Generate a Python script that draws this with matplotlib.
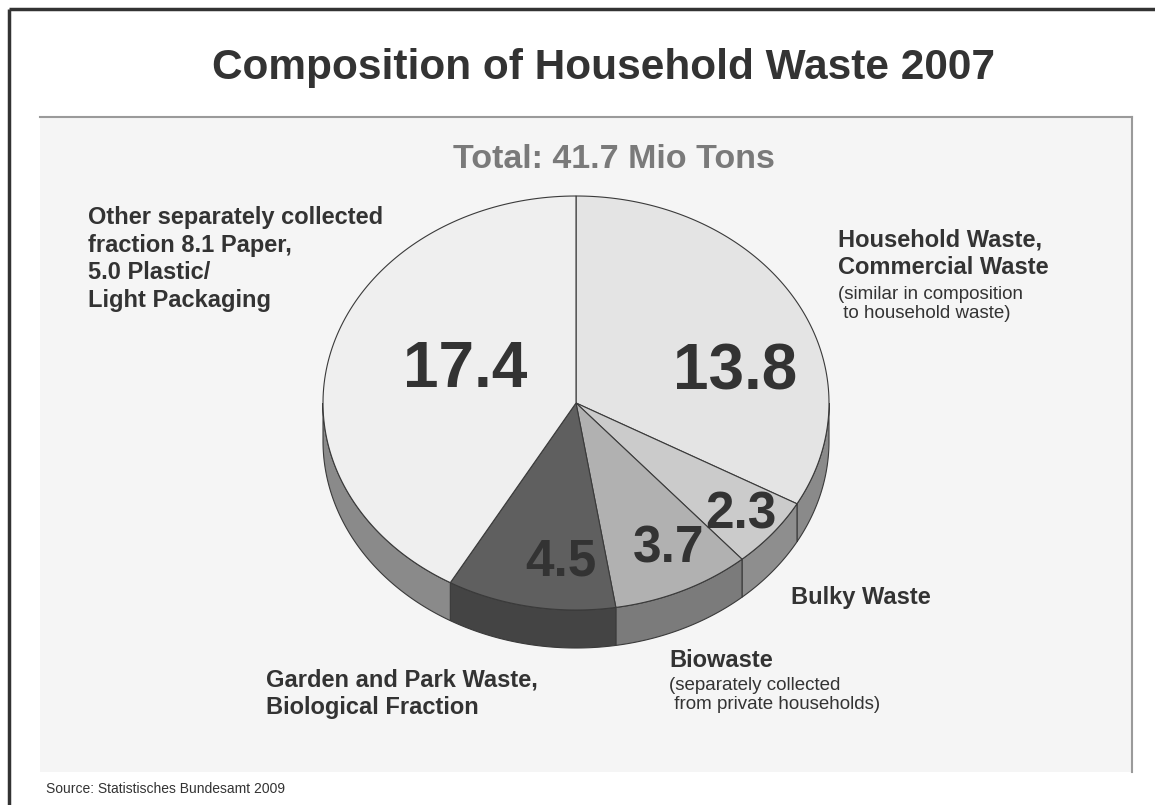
import numpy as np
import matplotlib
matplotlib.use("Agg")
import matplotlib.pyplot as plt
from matplotlib.patches import Rectangle, Polygon

plt.rcParams['font.family'] = ['Liberation Sans', 'DejaVu Sans']

# --- data (Mio tons) ---
values = [13.8, 2.3, 3.7, 4.5, 17.4]
top_colors = ['#e4e4e4', '#cbcbcb', '#b1b1b1', '#5f5f5f', '#efefef']
side_colors = ['#8a8a8a', '#8e8e8e', '#7b7b7b', '#444444', '#8a8a8a']
value_pos = [(735, 372), (741, 515), (669, 549), (561, 562), (465, 370)]
value_size = [46, 37, 37, 37, 46]

title = "Composition of Household Waste 2007"
source = "Source: Statistisches Bundesamt 2009"

# pie geometry in pixel space (y grows downward)
cx, cy = 576, 403
rx, ry = 253, 207
depth = 38
TXT = '#333333'
EDGE = '#3a3a3a'
LABEL = 17      # bold category labels
NOTE = 13.5     # small explanatory notes


def ellipse_pts(a0, a1, dy=0, n=120):
    t = np.radians(np.linspace(a0, a1, n))
    return np.column_stack([cx + rx * np.cos(t), cy - ry * np.sin(t) + dy])


fig = plt.figure(figsize=(11.55, 8.05), dpi=100)
ax = fig.add_axes([0, 0, 1, 1])
ax.set_xlim(0, 1155)
ax.set_ylim(805, 0)
ax.axis('off')

# outer frame
ax.plot([9, 1155], [9, 9], color='#333333', lw=2.5, solid_capstyle='butt')
ax.plot([9, 9], [9, 805], color='#333333', lw=2.5, solid_capstyle='butt')

# chart panel
ax.add_patch(Rectangle((40, 117), 1092, 655, facecolor='#f5f5f5', edgecolor='none'))
ax.plot([40, 1132], [117, 117], color='#9a9a9a', lw=1.5)
ax.plot([1132, 1132], [117, 772], color='#9a9a9a', lw=1.5)

ax.text(604, 68, title, ha='center', va='center', fontsize=30.5,
        fontweight='bold', color=TXT)
total = sum(values)
ax.text(614, 160, f"Total: {total:.1f} Mio Tons", ha='center', va='center',
        fontsize=24.5, fontweight='bold', color='#7a7a7a')

# slice angles, clockwise from 12 o'clock
sweeps = [v / total * 360 for v in values]
starts = 90 - np.concatenate([[0], np.cumsum(sweeps)[:-1]])
ends = starts - np.array(sweeps)

# side walls (front half only)
for a_hi, a_lo, sc in zip(starts, ends, side_colors):
    lo, hi = max(a_lo, -180), min(a_hi, 0)
    if lo >= hi:
        continue
    top = ellipse_pts(lo, hi)
    bottom = ellipse_pts(hi, lo, dy=depth)
    ax.add_patch(Polygon(np.vstack([top, bottom]), closed=True,
                         facecolor=sc, edgecolor=EDGE, lw=0.8))

# top faces
for a_hi, a_lo, tc in zip(starts, ends, top_colors):
    arc = ellipse_pts(a_hi, a_lo)
    ax.add_patch(Polygon(np.vstack([[cx, cy], arc]), closed=True,
                         facecolor=tc, edgecolor=EDGE, lw=0.8))

for v, (x, y), fs in zip(values, value_pos, value_size):
    ax.text(x, y, f"{v:.1f}", ha='center', va='center', fontsize=fs,
            fontweight='bold', color=TXT)

# category labels
ax.text(88, 259, "Other separately collected\nfraction 8.1 Paper,\n5.0 Plastic/\nLight Packaging",
        ha='left', va='center', fontsize=LABEL, fontweight='bold', color=TXT,
        linespacing=1.25)
ax.text(838, 254, "Household Waste,\nCommercial Waste", ha='left', va='center',
        fontsize=LABEL, fontweight='bold', color=TXT, linespacing=1.25)
ax.text(838, 304, "(similar in composition\n to household waste)", ha='left',
        va='center', fontsize=NOTE, color=TXT, linespacing=1.15)
ax.text(791, 597, "Bulky Waste", ha='left', va='center', fontsize=LABEL,
        fontweight='bold', color=TXT)
ax.text(669, 660, "Biowaste", ha='left', va='center', fontsize=LABEL,
        fontweight='bold', color=TXT)
ax.text(669, 695, "(separately collected\n from private households)", ha='left',
        va='center', fontsize=NOTE, color=TXT, linespacing=1.15)
ax.text(266, 694, "Garden and Park Waste,\nBiological Fraction", ha='left',
        va='center', fontsize=LABEL, fontweight='bold', color=TXT,
        linespacing=1.25)

ax.text(46, 789, source, ha='left', va='center', fontsize=10, color=TXT)

fig.savefig('out.png', dpi=100)
